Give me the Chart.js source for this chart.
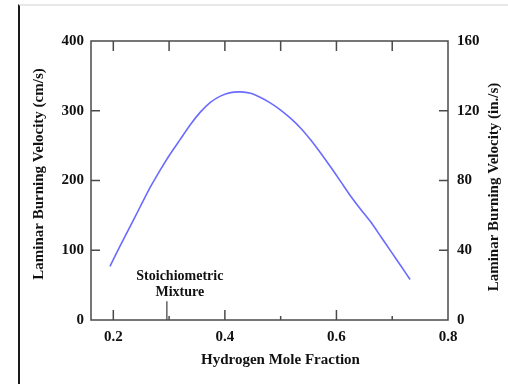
<!DOCTYPE html>
<html>
<head>
<meta charset="utf-8">
<script src="https://cdn.jsdelivr.net/npm/chart.js@4"></script>
<style>
html, body { margin: 0; padding: 0; background: #fff; }
#frame { position: absolute; left: 18px; top: 4px; width: 490px; height: 380px;
         border-top: 2px solid #e8e8e8; border-left: 2px solid #1a1a1a; }
#c { position: absolute; left: 0; top: 0; }
</style>
</head>
<body>
<div id="frame"></div>
<canvas id="c" width="508" height="384"></canvas>
<script>
// hydrogen mole fraction vs laminar burning velocity (cm/s)
const h2Fraction = [0.194, 0.212, 0.230, 0.248, 0.266, 0.284, 0.302, 0.320, 0.338, 0.356,
                    0.374, 0.392, 0.410, 0.428, 0.446, 0.464, 0.482, 0.500, 0.518, 0.536,
                    0.554, 0.572, 0.590, 0.608, 0.626, 0.644, 0.662, 0.680, 0.698, 0.716,
                    0.732];
const velocityCm = [77, 106, 134, 162, 190, 215, 238, 259, 280, 298,
                    312, 321, 326, 327, 325, 319, 311, 301, 289, 275,
                    258, 239, 219, 198, 177, 158, 140, 119, 98, 77,
                    58];

const xTicks = [0.2, 0.4, 0.6, 0.8];
const xMajorMarks = [0.2, 0.4, 0.6];
const xMinorMarks = [0.3, 0.5, 0.7];
const cmTicks = [0, 100, 200, 300, 400];
const inTicks = [0, 40, 80, 120, 160];

const stoichX = 0.296;
const stoichMarkY = 27;

const xTitle = 'Hydrogen Mole Fraction';
const yTitle = 'Laminar Burning Velocity (cm/s)';
const y2Title = 'Laminar Burning Velocity (in./s)';

const axisColor = '#4a4a4a';
const textColor = '#111';
const serif = '"Liberation Serif", "Times New Roman", serif';

const frameTicks = {
    id: 'frameTicks',
    afterDatasetsDraw(chart) {
        const { ctx, chartArea: a, scales } = chart;
        ctx.save();
        ctx.strokeStyle = axisColor;
        ctx.lineWidth = 1.5;
        ctx.strokeRect(a.left, a.top, a.right - a.left, a.bottom - a.top);

        ctx.beginPath();
        xMajorMarks.concat(xMinorMarks).forEach(v => {
            const px = scales.x.getPixelForValue(v);
            ctx.moveTo(px, a.top);
            ctx.lineTo(px, a.top + 10);
        });
        xMajorMarks.forEach(v => {
            const px = scales.x.getPixelForValue(v);
            ctx.moveTo(px, a.bottom);
            ctx.lineTo(px, a.bottom - 10);
        });
        xMinorMarks.forEach(v => {
            const px = scales.x.getPixelForValue(v);
            ctx.moveTo(px, a.bottom);
            ctx.lineTo(px, a.bottom - 4);
        });
        cmTicks.slice(1, -1).forEach(v => {
            const py = scales.y.getPixelForValue(v);
            ctx.moveTo(a.left, py);
            ctx.lineTo(a.left + 9, py);
        });
        inTicks.slice(1, -1).forEach(v => {
            const py = scales.y2.getPixelForValue(v);
            ctx.moveTo(a.right, py);
            ctx.lineTo(a.right - 9, py);
        });
        ctx.stroke();

        ctx.fillStyle = textColor;
        ctx.font = 'bold 15px ' + serif;
        ctx.textAlign = 'center';
        ctx.textBaseline = 'middle';
        ctx.fillText(xTitle, (a.left + a.right) / 2 + 11, 360);

        // both side titles read bottom-to-top
        [[yTitle, 39, 174], [y2Title, 494, 187]].forEach(([t, x, y]) => {
            ctx.save();
            ctx.translate(x, y);
            ctx.rotate(-Math.PI / 2);
            ctx.fillText(t, 0, 0);
            ctx.restore();
        });

        ctx.font = 'bold 14px ' + serif;
        const sx = scales.x.getPixelForValue(stoichX) + 13;
        const sy = scales.y.getPixelForValue(stoichMarkY);
        ctx.fillText('Stoichiometric', sx, sy - 25);
        ctx.fillText('Mixture', sx, sy - 9);
        ctx.restore();
    }
};

const tickFont = { family: serif, size: 15, weight: 'bold' };

new Chart(document.getElementById('c'), {
    type: 'line',
    data: {
        datasets: [{
            data: h2Fraction.map((x, i) => ({ x: x, y: velocityCm[i] })),
            borderColor: '#6b6bff',
            borderWidth: 1.6,
            pointRadius: 0,
            tension: 0.2,
            fill: false,
            yAxisID: 'y'
        }, {
            data: [{ x: stoichX, y: 0 }, { x: stoichX, y: stoichMarkY }],
            borderColor: axisColor,
            borderWidth: 1.3,
            pointRadius: 0,
            fill: false,
            yAxisID: 'y'
        }]
    },
    options: {
        responsive: false,
        animation: false,
        devicePixelRatio: 1,
        layout: { padding: { top: 41, left: 0, right: 0, bottom: 0 } },
        plugins: {
            legend: { display: false },
            tooltip: { enabled: false }
        },
        scales: {
            x: {
                type: 'linear',
                min: 0.16,
                max: 0.8,
                grid: { display: false, drawTicks: false },
                border: { display: false },
                afterBuildTicks: s => { s.ticks = xTicks.map(v => ({ value: v })); },
                afterFit: s => { s.height = 64; },
                ticks: {
                    padding: 8,
                    color: textColor,
                    font: tickFont,
                    maxRotation: 0,
                    callback: v => v.toFixed(1)
                }
            },
            y: {
                position: 'left',
                min: 0,
                max: 400,
                grid: { display: false, drawTicks: false },
                border: { display: false },
                afterBuildTicks: s => { s.ticks = cmTicks.map(v => ({ value: v })); },
                afterFit: s => { s.width = 91; },
                ticks: { padding: 7, color: textColor, font: tickFont }
            },
            y2: {
                position: 'right',
                min: 0,
                max: 160,
                grid: { display: false, drawTicks: false },
                border: { display: false },
                afterBuildTicks: s => { s.ticks = inTicks.map(v => ({ value: v })); },
                afterFit: s => { s.width = 60; },
                ticks: { padding: 9, color: textColor, font: tickFont }
            }
        }
    },
    plugins: [frameTicks]
});
</script>
</body>
</html>
